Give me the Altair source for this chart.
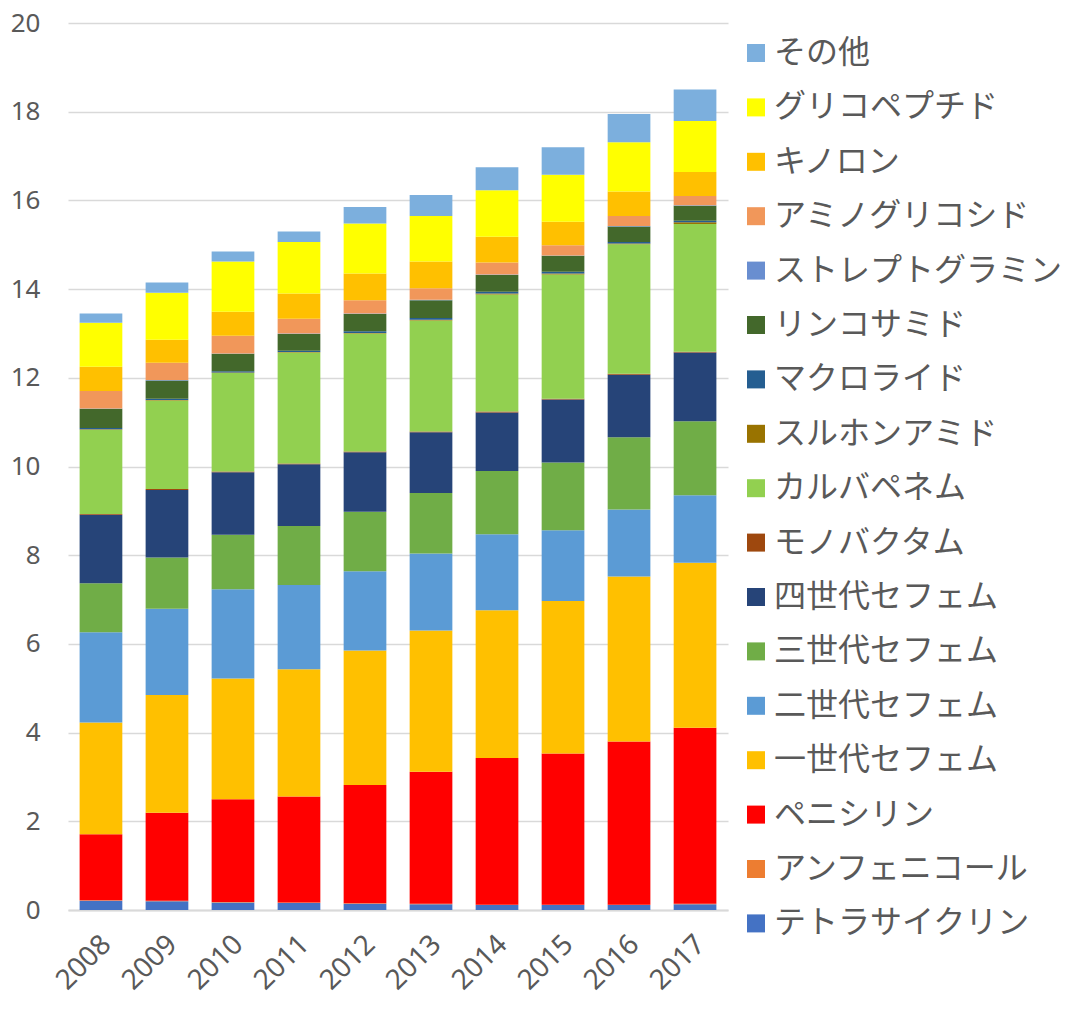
import altair as alt
import pandas as pd

years = ["2008", "2009", "2010", "2011", "2012", "2013", "2014", "2015", "2016", "2017"]

# bottom -> top stacking order
classes = [
    "テトラサイクリン", "アンフェニコール", "ペニシリン", "一世代セフェム", "二世代セフェム",
    "三世代セフェム", "四世代セフェム", "モノバクタム", "カルバペネム", "スルホンアミド",
    "マクロライド", "リンコサミド", "ストレプトグラミン", "アミノグリコシド", "キノロン",
    "グリコペプチド", "その他",
]
colors = [
    "#4472C4", "#ED7D31", "#FF0000", "#FFC000", "#5B9BD5",
    "#70AD47", "#264478", "#9E480E", "#92D050", "#997300",
    "#255E91", "#43682B", "#698ED0", "#F1975A", "#FFC000",
    "#FFFF00", "#7CAFDD",
]

tetracycline   = [0.21, 0.20, 0.17, 0.16, 0.14, 0.13, 0.11, 0.11, 0.11, 0.13]
amphenicol     = [0.01, 0.01, 0.01, 0.01, 0.01, 0.01, 0.01, 0.01, 0.01, 0.01]
penicillin     = [1.49, 1.98, 2.32, 2.39, 2.67, 2.98, 3.31, 3.41, 3.68, 3.97]
ceph1          = [2.52, 2.66, 2.72, 2.87, 3.03, 3.18, 3.33, 3.44, 3.72, 3.72]
ceph2          = [2.03, 1.94, 2.01, 1.90, 1.79, 1.74, 1.71, 1.59, 1.51, 1.52]
ceph3          = [1.11, 1.16, 1.23, 1.33, 1.34, 1.36, 1.43, 1.53, 1.63, 1.67]
ceph4          = [1.54, 1.52, 1.41, 1.39, 1.34, 1.37, 1.32, 1.42, 1.41, 1.55]
monobactam     = [0.02, 0.02, 0.02, 0.02, 0.02, 0.02, 0.02, 0.02, 0.02, 0.02]
carbapenem     = [1.90, 2.00, 2.22, 2.50, 2.66, 2.50, 2.64, 2.80, 2.92, 2.88]
sulfonamide    = [0.01, 0.01, 0.01, 0.01, 0.01, 0.02, 0.02, 0.02, 0.02, 0.04]
macrolide      = [0.03, 0.03, 0.03, 0.03, 0.04, 0.04, 0.04, 0.04, 0.03, 0.03]
lincosamide    = [0.43, 0.41, 0.39, 0.38, 0.39, 0.40, 0.38, 0.36, 0.35, 0.34]
streptogramin  = [0.01, 0.01, 0.01, 0.01, 0.01, 0.01, 0.01, 0.01, 0.01, 0.01]
aminoglycoside = [0.39, 0.39, 0.40, 0.33, 0.30, 0.26, 0.27, 0.23, 0.23, 0.21]
quinolone      = [0.55, 0.52, 0.54, 0.57, 0.60, 0.60, 0.58, 0.53, 0.55, 0.54]
glycopeptide   = [0.99, 1.06, 1.13, 1.16, 1.13, 1.03, 1.05, 1.06, 1.11, 1.15]
other          = [0.21, 0.23, 0.23, 0.24, 0.37, 0.47, 0.52, 0.62, 0.64, 0.71]

series = [tetracycline, amphenicol, penicillin, ceph1, ceph2, ceph3, ceph4, monobactam,
          carbapenem, sulfonamide, macrolide, lincosamide, streptogramin, aminoglycoside,
          quinolone, glycopeptide, other]

y_ticks = [0, 2, 4, 6, 8, 10, 12, 14, 16, 18, 20]

rows = []
for i, (name, vals) in enumerate(zip(classes, series)):
    for yr, v in zip(years, vals):
        rows.append({"year": yr, "class": name, "value": v, "idx": i})
df = pd.DataFrame(rows)

FONT = "Noto Sans CJK JP"
NUMFONT = "Noto Sans"
TXT = "#595959"

chart = alt.Chart(df).mark_bar().encode(
    x=alt.X("year:N", sort=years, title=None,
            scale=alt.Scale(paddingInner=0.353, paddingOuter=0.176),
            axis=alt.Axis(labelAngle=-45, labelFontSize=28, labelFont=NUMFONT, labelColor=TXT,
                          ticks=False, domainColor="#D9D9D9", domainWidth=2, labelPadding=20,
                          labelOffset=-4)),
    y=alt.Y("value:Q", stack="zero", title=None,
            scale=alt.Scale(domain=[0, 20], nice=False),
            axis=alt.Axis(values=y_ticks, labelFontSize=26, labelFont=NUMFONT, labelColor=TXT,
                          ticks=False, domain=False, gridColor="#D9D9D9", gridWidth=1.5,
                          labelPadding=28)),
    color=alt.Color("class:N",
                    scale=alt.Scale(domain=classes[::-1], range=colors[::-1]),
                    legend=alt.Legend(title=None, orient="none", legendX=672, legendY=14,
                                      labelFont=FONT, labelFontSize=32, labelColor=TXT,
                                      symbolType="square", symbolSize=324, symbolStrokeWidth=0,
                                      labelOffset=2, rowPadding=22.4, padding=0,
                                      labelLimit=400)),
    order=alt.Order("idx:Q", sort="ascending"),
).properties(
    width=660, height=887,
    autosize=alt.AutoSizeParams(type="none"),
    padding={"left": 60, "top": 15, "right": 340, "bottom": 90},
).configure_view(stroke=None)

chart.save("out.html", embed_options={"renderer": "svg", "actions": False})
